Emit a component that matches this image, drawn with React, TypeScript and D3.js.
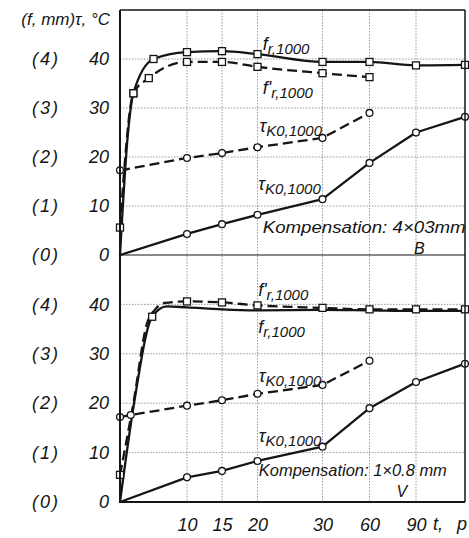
import React, { useEffect, useRef } from "react";
import * as d3 from "d3";

// time axis (non-linear in the original: 0..30 stretched, then 30-unit steps)
const tDomain = [0, 10, 15, 20, 30, 60, 90, 120];
const xTicks = [10, 15, 20, 30, 60, 90];
const yTicks = [0, 10, 20, 30, 40];

// upper panel: Kompensation 4x0.3 mm (B)
const upFrT = [0, 1.2, 2, 5, 10, 15, 20, 30, 60, 90, 120];
const upFrV = [0, 25, 33, 40, 41.4, 41.6, 41, 39.4, 39.4, 38.7, 38.8];
const upFrMk = [0, 0, 1, 1, 1, 1, 1, 1, 1, 1, 1];

const upFrpT = [0, 2, 4.3, 10, 15, 20, 30, 60];
const upFrpV = [5.6, 33, 36.1, 39.4, 39.4, 38.4, 37.1, 36.3];
const upFrpMk = [1, 1, 1, 1, 1, 1, 1, 1];

const upTauDT = [0, 1, 10, 15, 20, 30, 60];
const upTauDV = [17.3, 17.5, 19.8, 20.8, 22, 23.9, 29];
const upTauDMk = [1, 0, 1, 1, 1, 1, 1];

const upTauT = [0, 10, 15, 20, 30, 60, 90, 120];
const upTauV = [0, 4.3, 6.3, 8.2, 11.4, 18.8, 25, 28.2];
const upTauMk = [0, 1, 1, 1, 1, 1, 1, 1];

// lower panel: Kompensation 1x0.8 mm (V)
const lowFrT = [0, 2.1, 4.8, 7, 10, 15, 20, 30, 60, 90, 120];
const lowFrV = [0, 20, 37.5, 39.6, 39.4, 39, 38.8, 38.9, 38.8, 38.7, 38.7];
const lowFrMk = [0, 0, 1, 0, 0, 0, 0, 0, 0, 0, 0];

const lowFrpT = [0, 2, 4, 5.2, 6.7, 10, 15, 20, 30, 60, 90, 120];
const lowFrpV = [5.5, 20, 36, 38.9, 40.3, 40.6, 40.4, 39.8, 39.3, 39, 39, 39];
const lowFrpMk = [1, 0, 0, 0, 0, 1, 1, 1, 1, 1, 1, 1];

const lowTauDT = [0, 1.6, 10, 15, 20, 30, 60];
const lowTauDV = [17.2, 17.6, 19.5, 20.6, 21.9, 23.7, 28.6];
const lowTauDMk = [1, 1, 1, 1, 1, 1, 1];

const lowTauT = [0, 10, 15, 20, 30, 60, 90, 120];
const lowTauV = [0, 5, 6.3, 8.3, 11.2, 19, 24.3, 28];
const lowTauMk = [0, 1, 1, 1, 1, 1, 1, 1];

const App = () => {
  const svgRef = useRef<SVGSVGElement>(null);

  useEffect(() => {
    const svg = d3.select(svgRef.current);
    svg.selectAll("*").remove();

    const left = 120, right = 465, top = 10, mid = 255, bottom = 502;
    const font = "'Liberation Sans', Arial, sans-serif";
    const ink = "#151515";

    const x = d3
      .scaleLinear()
      .domain(tDomain)
      .range([left, 187, 222, 257.5, 322.5, 369.5, 416, right]);
    const yUp = d3.scaleLinear().domain([0, 50]).range([mid, top]);
    const yLow = d3.scaleLinear().domain([0, 50]).range([bottom, mid]);

    // grid
    const grid = svg.append("g").attr("stroke", "#808080").attr("stroke-width", 0.8).attr("stroke-dasharray", "1.5,1.5");
    [yUp, yLow].forEach((y) => {
      grid
        .selectAll(null)
        .data([10, 20, 30, 40])
        .join("line")
        .attr("x1", left)
        .attr("x2", right)
        .attr("y1", (d) => y(d))
        .attr("y2", (d) => y(d));
    });
    grid
      .selectAll(null)
      .data(xTicks)
      .join("line")
      .attr("x1", (d) => x(d))
      .attr("x2", (d) => x(d))
      .attr("y1", top)
      .attr("y2", bottom);

    const panels = [
      {
        y: yUp,
        series: [
          { t: upFrT, v: upFrV, mk: upFrMk, dash: false, sq: true, smooth: true },
          { t: upFrpT, v: upFrpV, mk: upFrpMk, dash: true, sq: true, smooth: true },
          { t: upTauDT, v: upTauDV, mk: upTauDMk, dash: true, sq: false, smooth: false },
          { t: upTauT, v: upTauV, mk: upTauMk, dash: false, sq: false, smooth: false },
        ],
        labels: [
          { main: "f", sub: "r,1000", t: 20.8, v: 41.9 },
          { main: "f'", sub: "r,1000", t: 20.8, v: 32.8 },
          { main: "τ", sub: "K0,1000", t: 20.3, v: 25.2 },
          { main: "τ", sub: "K0,1000", t: 20.1, v: 13.2 },
        ],
        komp: { text: "Kompensation: 4×03mm", t: 20.8, v: 4.5, len: 203 },
        tag: { text: "B", t: 92, v: 0.2 },
      },
      {
        y: yLow,
        series: [
          { t: lowFrT, v: lowFrV, mk: lowFrMk, dash: false, sq: true, smooth: true },
          { t: lowFrpT, v: lowFrpV, mk: lowFrpMk, dash: true, sq: true, smooth: true },
          { t: lowTauDT, v: lowTauDV, mk: lowTauDMk, dash: true, sq: false, smooth: false },
          { t: lowTauT, v: lowTauV, mk: lowTauMk, dash: false, sq: false, smooth: false },
        ],
        labels: [
          { main: "f'", sub: "r,1000", t: 20.1, v: 41.6 },
          { main: "f", sub: "r,1000", t: 20.1, v: 34.2 },
          { main: "τ", sub: "K0,1000", t: 20.2, v: 24.2 },
          { main: "τ", sub: "K0,1000", t: 20.2, v: 12.2 },
        ],
        komp: { text: "Kompensation: 1×0.8 mm", t: 20.2, v: 5.2, len: 188 },
        tag: { text: "V", t: 80.9, v: 1.0 },
      },
    ];

    panels.forEach((p) => {
      const y = p.y;
      p.series.forEach((s) => {
        const pts = s.t.map((t, i) => [t, s.v[i], s.mk[i]]);
        const line = d3
          .line<number[]>()
          .x((d) => x(d[0]))
          .y((d) => y(d[1]))
          .curve(s.smooth ? d3.curveMonotoneX : d3.curveLinear);
        svg
          .append("path")
          .datum(pts)
          .attr("fill", "none")
          .attr("stroke", ink)
          .attr("stroke-width", 2.3)
          .attr("stroke-dasharray", s.dash ? "10,5" : null)
          .attr("stroke-linejoin", "round")
          .attr("d", line);
      });
      p.series.forEach((s) => {
        const pts = s.t.map((t, i) => [t, s.v[i], s.mk[i]]).filter((d) => d[2]);
        const m = svg.append("g").attr("fill", "#fff").attr("stroke", ink).attr("stroke-width", 1.3);
        if (s.sq) {
          m.selectAll(null)
            .data(pts)
            .join("rect")
            .attr("x", (d) => x(d[0]) - 3.5)
            .attr("y", (d) => y(d[1]) - 3.5)
            .attr("width", 7)
            .attr("height", 7);
        } else {
          m.selectAll(null)
            .data(pts)
            .join("circle")
            .attr("cx", (d) => x(d[0]))
            .attr("cy", (d) => y(d[1]))
            .attr("r", 3.4);
        }
      });

      const txt = svg.append("g").attr("font-family", font).attr("font-style", "italic").attr("fill", ink);
      p.labels.forEach((l) => {
        const t = txt.append("text").attr("x", x(l.t)).attr("y", y(l.v)).attr("font-size", 18).text(l.main);
        t.append("tspan").attr("dy", 4).attr("font-size", 15).text(l.sub);
      });
      txt
        .append("text")
        .attr("x", x(p.komp.t))
        .attr("y", y(p.komp.v))
        .attr("font-size", 16)
        .attr("textLength", p.komp.len)
        .attr("lengthAdjust", "spacingAndGlyphs")
        .text(p.komp.text);
      txt
        .append("text")
        .attr("x", x(p.tag.t))
        .attr("y", y(p.tag.v))
        .attr("font-size", 16)
        .attr("text-anchor", "middle")
        .text(p.tag.text);

      // y axes: value and (f, mm) scale
      const ax = svg
        .append("g")
        .attr("transform", `translate(${left},0)`)
        .call(d3.axisLeft(y).tickValues(yTicks).tickSize(0).tickPadding(11))
        .call((g) => g.select(".domain").remove());
      const ax2 = svg
        .append("g")
        .attr("transform", `translate(${left},0)`)
        .call(
          d3
            .axisLeft(y)
            .tickValues(yTicks)
            .tickSize(0)
            .tickPadding(60)
            .tickFormat((d) => `(${+d / 10})`)
        )
        .call((g) => g.select(".domain").remove());
      [ax, ax2].forEach((g) =>
        g.attr("font-family", font).attr("font-size", 18).attr("font-style", "italic").selectAll("text").attr("fill", ink)
      );
      ax2.selectAll("text").attr("letter-spacing", 2);
    });

    // frame
    const frame = svg.append("g").attr("fill", "none").attr("stroke", ink);
    frame.append("line").attr("x1", left).attr("x2", right).attr("y1", top).attr("y2", top).attr("stroke-width", 1.4);
    frame.append("line").attr("x1", left).attr("x2", right).attr("y1", mid).attr("y2", mid).attr("stroke-width", 1);
    frame.append("line").attr("x1", left - 1).attr("x2", right).attr("y1", bottom).attr("y2", bottom).attr("stroke-width", 2);
    frame.append("line").attr("x1", left).attr("x2", left).attr("y1", top).attr("y2", bottom).attr("stroke-width", 2);
    frame.append("line").attr("x1", right).attr("x2", right).attr("y1", top).attr("y2", bottom).attr("stroke-width", 1.5);

    // x axis
    const xa = svg
      .append("g")
      .attr("transform", `translate(0,${bottom})`)
      .call(d3.axisBottom(x).tickValues(xTicks).tickSize(0).tickPadding(16))
      .call((g) => g.select(".domain").remove());
    xa.attr("font-family", font).attr("font-size", 18).attr("font-style", "italic").selectAll("text").attr("fill", ink);

    const extra = svg.append("g").attr("font-family", font).attr("font-size", 18).attr("font-style", "italic").attr("fill", ink);
    extra.append("text").attr("x", 438).attr("y", 530).attr("text-anchor", "middle").text("t,");
    extra.append("text").attr("x", 462).attr("y", 530).attr("text-anchor", "middle").text("p");
    extra.append("text").attr("x", 110).attr("y", 25).attr("text-anchor", "end").attr("font-size", 17).text("(f, mm)τ, °C");
  }, []);

  return (
    <svg
      ref={svgRef}
      width={469}
      height={538}
      style={{ position: "absolute", left: 0, top: 0, background: "#fff" }}
    />
  );
};

export default App;
